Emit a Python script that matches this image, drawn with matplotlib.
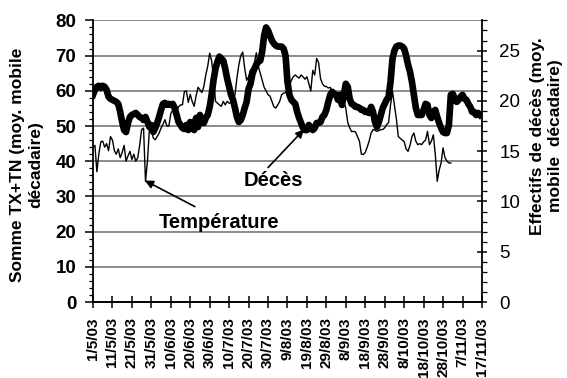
import numpy as np
import matplotlib
matplotlib.use("Agg")
import matplotlib.pyplot as plt
from matplotlib.ticker import MultipleLocator

plt.rcParams["font.family"] = ["Liberation Sans", "DejaVu Sans"]

# ------------------------------------------------------------
#  Données (moyennes mobiles décadaires, 1/5/03 -> 17/11/03)
# ------------------------------------------------------------
tick_labels = ["1/5/03", "11/5/03", "21/5/03", "31/5/03", "10/6/03", "20/6/03",
               "30/6/03", "10/7/03", "20/7/03", "30/7/03", "9/8/03", "19/8/03",
               "29/8/03", "8/9/03", "18/9/03", "28/9/03", "8/10/03", "18/10/03",
               "28/10/03", "7/11/03", "17/11/03"]

# Somme TX+TN (axe gauche)
temperature = [
    44, 44.5, 37, 42, 45.5, 45.7, 44, 45, 43, 47,
    46, 43, 42, 43.5, 41, 42.5, 44.5, 40, 41.5, 42.8,
    40.5, 42, 40, 41, 44.5, 49, 49.4, 34.3, 40, 49,
    49, 46.6, 46.1, 47, 48, 49.4, 50.5, 51.8, 50, 50,
    53.5, 54.5, 53.5, 54, 55.5, 56, 56, 59.8, 60, 56.7,
    59, 57, 55.6, 58.5, 61, 60.3, 59.5, 61.2, 64.5, 67,
    70.7, 68.5, 63.5, 57, 56.5, 56, 55.6, 57, 56, 57,
    56.5, 56.5, 57, 58.9, 63.6, 67.4, 70, 71, 66.4, 63,
    64, 66, 65, 68, 70.8, 67, 65, 63, 61, 60,
    58.9, 58.5, 57, 55.5, 55.1, 56, 57, 58.9, 59.3, 59.5,
    60, 61.3, 63, 64, 64.5, 64, 63.6, 64.5, 64, 63.3,
    64, 62, 60, 65.8, 64.5, 69.2, 68, 63.5, 62, 61.3,
    61.2, 60.8, 61, 59.5, 59, 58, 58.5, 57, 58.5, 57,
    55, 51, 49.5, 48.4, 48.5, 48.3, 47, 45.7, 42, 41.9,
    42.5, 44, 45.7, 48, 49, 48.8, 48.5, 48.7, 49, 49,
    49.5, 50.4, 51, 56, 59.8, 56, 52, 47, 46.5, 46,
    45.6, 43.5, 42.8, 44.5, 47, 48, 45.7, 44.7, 45, 44.7,
    45.5, 46, 48.5, 44.7, 45.7, 47.5, 42, 34.3, 37.5, 39.5,
    43.8, 41, 40, 39.5, 39.5,
]

# Effectifs de décès (axe droit)
deces = [
    20.6, 21.1, 21.4, 21.5, 21.3, 21.5, 21.4, 21.1, 20.4, 20.2,
    20.1, 20.0, 19.9, 19.7, 18.9, 17.9, 17.1, 16.9, 17.8, 18.4,
    18.6, 18.7, 18.8, 18.6, 18.4, 18.3, 18.1, 18.4, 17.9, 17.4,
    17.6, 16.9, 17.3, 17.8, 18.4, 19.1, 19.7, 19.8, 19.6, 19.7,
    19.6, 19.7, 19.3, 18.6, 17.9, 17.6, 17.3, 17.2, 17.6, 17.1,
    17.9, 17.3, 17.1, 18.3, 17.4, 18.6, 18.1, 17.8, 18.3, 18.6,
    19.4, 20.6, 22.1, 23.2, 23.9, 24.4, 24.2, 24.0, 23.2, 22.2,
    21.4, 20.6, 20.1, 19.3, 18.4, 17.9, 18.1, 18.6, 19.3, 19.9,
    21.2, 21.7, 22.7, 23.2, 23.6, 23.9, 24.0, 24.9, 26.5, 27.3,
    27.0, 26.5, 26.0, 25.7, 25.5, 25.4, 25.4, 25.4, 25.2, 24.5,
    21.9, 20.6, 20.1, 19.9, 19.7, 18.9, 18.3, 17.8, 17.3, 17.1,
    17.1, 17.6, 17.3, 17.1, 17.3, 17.8, 17.8, 17.9, 18.4, 18.6,
    19.1, 19.9, 20.6, 20.9, 20.7, 20.6, 20.1, 20.6, 19.6, 20.6,
    21.7, 21.4, 20.2, 19.7, 19.6, 19.4, 19.4, 19.3, 19.1, 19.1,
    18.9, 18.9, 18.8, 19.4, 18.9, 17.9, 17.4, 17.9, 18.6, 19.3,
    19.7, 20.1, 20.4, 21.9, 24.2, 25.0, 25.4, 25.5, 25.5, 25.4,
    25.2, 24.5, 23.6, 22.9, 21.9, 20.6, 19.3, 18.6, 18.6, 18.6,
    19.1, 19.7, 19.6, 18.6, 18.3, 18.9, 19.1, 18.4, 17.8, 17.3,
    16.9, 16.8, 16.8, 17.6, 20.6, 20.7, 20.2, 19.9, 20.1, 20.4,
    20.6, 20.2, 20.1, 19.7, 19.4, 18.9, 18.9, 18.6, 18.8, 18.6,
]

# ------------------------------------------------------------
#  Figure
# ------------------------------------------------------------
fig = plt.figure(figsize=(5.67, 3.78), dpi=100)
ax = fig.add_axes([0.164, 0.201, 0.686, 0.745])
ax2 = ax.twinx()

ax.plot(np.arange(len(temperature)), temperature, color="black", lw=1.0, zorder=3)
ax2.plot(np.arange(len(deces)), deces, color="black", lw=4.8,
         solid_joinstyle="round", zorder=3)

ax.set_xlim(0, 200)
ax.set_ylim(0, 80)
ax2.set_ylim(0, 28)

ax.set_xticks(np.arange(0, 201, 10))
ax.set_xticklabels(tick_labels, rotation=90, fontsize=11, fontweight="bold")
ax.set_yticks(np.arange(0, 81, 10))
ax.yaxis.set_minor_locator(MultipleLocator(2))
for lab in ax.get_yticklabels():
    lab.set_fontweight("bold")

ax2.set_yticks(np.arange(0, 26, 5))
ax2.yaxis.set_minor_locator(MultipleLocator(1))

ax.yaxis.grid(True, which="major", color="#8a8a8a", lw=1.4)
ax.set_axisbelow(True)

for a in (ax, ax2):
    a.spines["top"].set_visible(False)
ax2.spines["left"].set_visible(False)
ax.spines["right"].set_visible(False)
ax.spines["left"].set_linewidth(1.3)
ax.spines["bottom"].set_linewidth(1.4)
ax2.spines["right"].set_linewidth(1.3)
ax2.spines["bottom"].set_visible(False)

ax.tick_params(axis="x", direction="inout", length=8, width=1.1, pad=7)
ax.tick_params(axis="y", which="major", direction="out", length=6, width=1.1,
               pad=6, labelsize=13.5)
ax.tick_params(axis="y", which="minor", direction="out", length=3, width=0.9)
ax2.tick_params(axis="y", which="major", direction="inout", length=7, width=1.1,
                pad=9, labelsize=13.5)
ax2.tick_params(axis="y", which="minor", direction="out", length=3.5, width=0.9)

# titres d'axes
fig.text(26.5 / 567, 1 - 165 / 378, "Somme TX+TN (moy. mobile\ndécadaire)",
         rotation=90, ha="center", va="center", multialignment="center",
         fontsize=12.5, fontweight="bold", linespacing=1.25)
fig.text(546.5 / 567, 1 - 136 / 378, "Effectifs de décès (moy.\nmobile  décadaire)",
         rotation=90, ha="center", va="center", multialignment="center",
         fontsize=12.5, fontweight="bold", linespacing=1.25)

# annotations
arrow = dict(arrowstyle="-|>", color="black", lw=1.2, mutation_scale=12,
             shrinkA=0, shrinkB=0)
ax.annotate("", xy=(26.7, 34.5), xytext=(52.4, 27.1), arrowprops=arrow)
ax.text(64.8, 22.5, "Température", ha="center", va="center",
        fontsize=14.5, fontweight="bold")
ax.annotate("", xy=(108.5, 49), xytext=(90, 38.2), arrowprops=arrow)
ax.text(93, 34.5, "Décès", ha="center", va="center",
        fontsize=14.5, fontweight="bold")

fig.savefig("out.png", dpi=100)
